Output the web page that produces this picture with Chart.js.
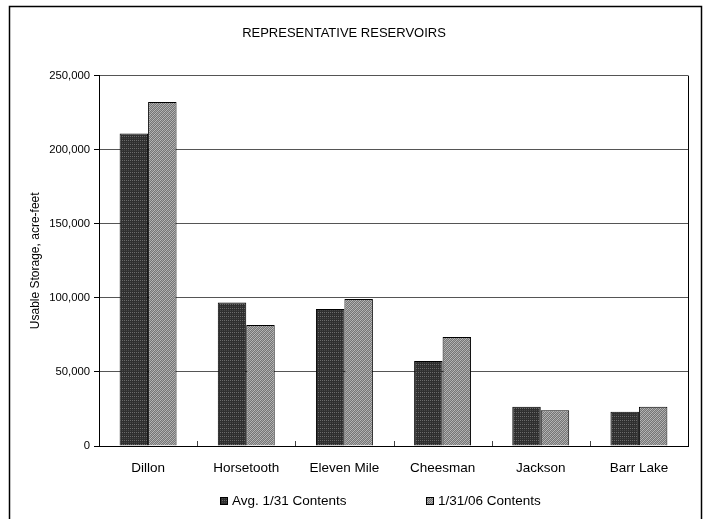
<!DOCTYPE html>
<html>
<head>
<meta charset="utf-8">
<script src="https://cdn.jsdelivr.net/npm/chart.js@4.4.1/dist/chart.umd.min.js"></script>
<style>
  html, body { margin: 0; padding: 0; background: #fff; }
  #wrap { width: 705px; height: 519px; position: relative; }
</style>
</head>
<body>
<div id="wrap"><canvas id="c" width="705" height="519"></canvas></div>
<script>
// Usable storage (acre-feet) at representative reservoirs
const reservoirs = ['Dillon', 'Horsetooth', 'Eleven Mile', 'Cheesman', 'Jackson', 'Barr Lake'];
const avgContents = [211000, 96800, 92500, 57400, 26500, 23200];
const contents2006 = [232200, 81700, 99300, 73600, 24100, 26500];
const seriesLabels = ['Avg. 1/31 Contents', '1/31/06 Contents'];
const yStep = 50000;
const yMax = 250000;

const FONT = "'Liberation Sans', Arial, sans-serif";

// Small repeating tiles used as bar fills
function makePattern(w, h, paint) {
  const c = document.createElement('canvas');
  c.width = w; c.height = h;
  const g = c.getContext('2d');
  paint(g);
  return g.createPattern(c, 'repeat');
}
const darkFill = makePattern(4, 4, g => {
  g.fillStyle = '#2f2f2f'; g.fillRect(0, 0, 4, 4);
  g.fillStyle = '#6c6c6c'; g.fillRect(0, 0, 1, 1); g.fillRect(2, 0, 1, 1);
  g.fillStyle = '#474747'; g.fillRect(0, 2, 1, 1); g.fillRect(2, 2, 1, 1);
});
const lightFill = makePattern(4, 4, g => {
  const tile = [
    '#b8b8b8', '#767676', '#a4a4a4', '#767676',
    '#767676', '#a4a4a4', '#767676', '#b8b8b8',
    '#a4a4a4', '#767676', '#b8b8b8', '#767676',
    '#767676', '#b8b8b8', '#767676', '#a4a4a4'
  ];
  tile.forEach((col, i) => { g.fillStyle = col; g.fillRect(i % 4, Math.floor(i / 4), 1, 1); });
});

const decorations = {
  id: 'decorations',
  beforeDraw(chart) {
    const ctx = chart.ctx;
    ctx.save();
    ctx.fillStyle = '#fff';
    ctx.fillRect(0, 0, chart.width, chart.height);
    ctx.restore();
  },
  afterDatasetsDraw(chart) {
    const ctx = chart.ctx;
    const { right, top, bottom } = chart.chartArea;
    const xs = chart.scales.x;
    ctx.save();
    // short inward ticks between categories
    ctx.strokeStyle = '#444';
    ctx.lineWidth = 1;
    for (let i = 1; i < reservoirs.length; i++) {
      const x = Math.round((xs.getPixelForValue(i - 1) + xs.getPixelForValue(i)) / 2) + 0.5;
      ctx.beginPath();
      ctx.moveTo(x, bottom);
      ctx.lineTo(x, bottom - 5);
      ctx.stroke();
    }
    // right edge of the plot area
    ctx.strokeStyle = '#000';
    ctx.beginPath();
    ctx.moveTo(Math.round(right) + 0.5, top);
    ctx.lineTo(Math.round(right) + 0.5, bottom);
    ctx.stroke();
    ctx.restore();
  },
  afterDraw(chart) {
    const ctx = chart.ctx;
    ctx.save();
    // outer frame
    ctx.strokeStyle = '#000';
    ctx.lineWidth = 1.5;
    ctx.strokeRect(9.5, 6.5, 692, 540);
    // legend
    const starts = [220, 426];
    const y = 501;
    ctx.font = '13.5px ' + FONT;
    ctx.textBaseline = 'middle';
    ctx.textAlign = 'left';
    chart.data.datasets.forEach((ds, i) => {
      const x = starts[i];
      ctx.fillStyle = ds.backgroundColor;
      ctx.fillRect(x, y - 4, 8, 8);
      ctx.lineWidth = 1;
      ctx.strokeStyle = '#000';
      ctx.strokeRect(x + 0.5, y - 3.5, 7, 7);
      ctx.fillStyle = '#000';
      ctx.fillText(ds.label, x + 12, y);
    });
    ctx.restore();
  }
};

new Chart(document.getElementById('c'), {
  type: 'bar',
  data: {
    labels: reservoirs,
    datasets: [
      { label: seriesLabels[0], data: avgContents, backgroundColor: darkFill, borderColor: '#000', borderWidth: 1 },
      { label: seriesLabels[1], data: contents2006, backgroundColor: lightFill, borderColor: '#000', borderWidth: 1 }
    ]
  },
  options: {
    responsive: false,
    animation: false,
    devicePixelRatio: 1,
    datasets: { bar: { categoryPercentage: 0.58, barPercentage: 1.0 } },
    layout: { padding: { left: 0, right: 17, top: 0, bottom: 0 } },
    plugins: {
      legend: { display: false },
      tooltip: { enabled: false },
      title: {
        display: true,
        text: 'REPRESENTATIVE RESERVOIRS',
        color: '#000',
        font: { family: FONT, size: 13, weight: 'normal' },
        padding: { top: 26, bottom: 34 }
      }
    },
    scales: {
      x: {
        grid: { display: false, drawTicks: false },
        border: { display: true, color: '#000', width: 1 },
        ticks: { color: '#000', font: { family: FONT, size: 13.5 }, padding: 14 },
        afterFit(s) { s.height = 73; }
      },
      y: {
        min: 0,
        max: yMax,
        ticks: {
          stepSize: yStep,
          color: '#000',
          font: { family: FONT, size: 11.3 },
          padding: 4,
          callback: v => v.toLocaleString('en-US')
        },
        grid: { color: '#555', lineWidth: 1, tickLength: 5, tickColor: '#000' },
        border: { color: '#000', width: 1 },
        title: {
          display: true,
          text: 'Usable Storage, acre-feet',
          color: '#000',
          font: { family: FONT, size: 12 },
          padding: { top: 28, bottom: 0 }
        },
        afterFit(s) { s.width = 99; }
      }
    }
  },
  plugins: [decorations]
});
</script>
</body>
</html>
